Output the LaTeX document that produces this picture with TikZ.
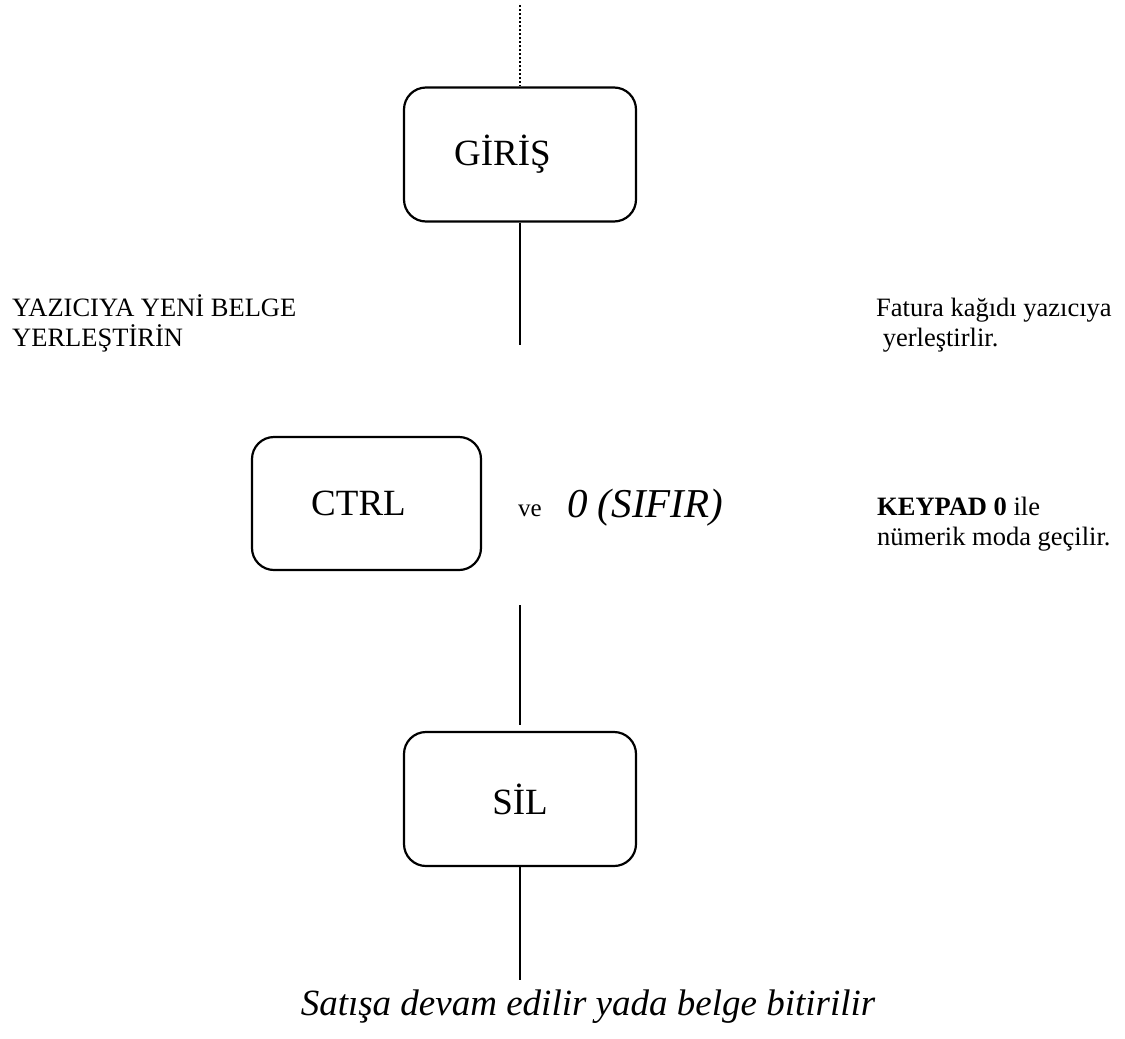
\documentclass[tikz,border=0pt]{standalone}
\usepackage{fontspec}
\setmainfont{Liberation Serif}
\begin{document}
\begin{tikzpicture}[x=1pt,y=-1pt,
  box/.style={draw, line width=2.2pt, rounded corners=22pt, inner sep=0pt,
    minimum width=232pt, minimum height=134pt, font=\fontsize{37}{40}\selectfont},
  conn/.style={line width=2.2pt},
  dotconn/.style={line width=2.5pt, dash pattern=on 2pt off 2pt},
  small/.style={inner sep=0pt, anchor=base west, font=\fontsize{26.5}{30}\selectfont},
  big/.style={inner sep=0pt, anchor=base west, font=\fontsize{41}{44}\selectfont\itshape}
]
\path[use as bounding box] (0,0) rectangle (1125,1039);
% boxes
\node[box] (giris) at (520,154.5) {GİRİŞ\kern35pt};
\node[box, minimum width=229pt, minimum height=133pt] (ctrl) at (366.5,503.5) {CTRL\kern16pt};
\node[box] (sil) at (520,799) {SİL};
% connectors
\coordinate (top) at (520,5);
\coordinate (c1) at (520,345);
\coordinate (c2a) at (520,605);
\coordinate (c2b) at (520,725);
\coordinate (c3) at (520,980);
\draw[dotconn] (top) -- (giris.north);
\draw[conn] (giris.south) -- (c1);
\draw[conn] (c2a) -- (c2b);
\draw[conn] (sil.south) -- (c3);
% side texts
\node[small] (l1) at (12,316) {YAZICIYA YENİ BELGE};
\node[small] (l2) at (12,346) {YERLEŞTİRİN};
\node[small] (r1) at (876,316) {Fatura kağıdı yazıcıya};
\node[small] (r2) at (876,346) {\ yerleştirlir.};
\node[small, font=\fontsize{25}{28}\selectfont] (ve) at (518,516) {ve};
\node[big] (sifir) at (567,517) {0 (SIFIR)};
\node[small] (k1) at (877,515) {\textbf{KEYPAD 0} ile};
\node[small] (k2) at (877,545) {nümerik moda geçilir.};
\node[inner sep=0pt, anchor=base, font=\fontsize{37}{40}\selectfont\itshape] (bottom) at (588,1015) {Satışa devam edilir yada belge bitirilir};
\end{tikzpicture}
\end{document}
